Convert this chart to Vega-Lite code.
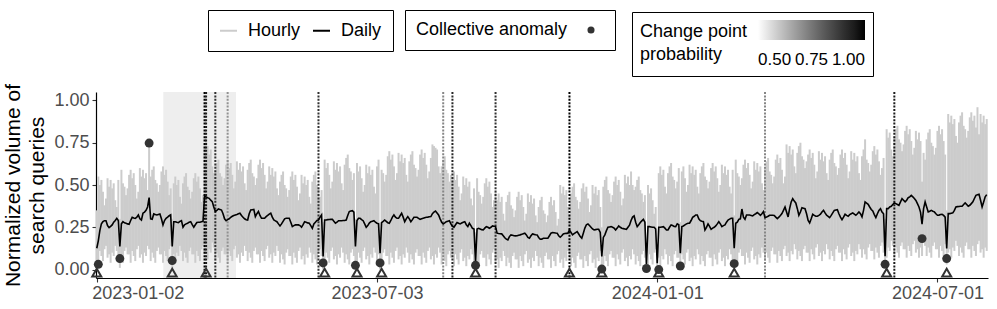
{
"$schema": "https://vega.github.io/schema/vega-lite/v6.json",
"width": 892, "height": 186,
"autosize": {"type": "none"},
"padding": {"left": 96, "top": 92, "right": 9, "bottom": 31},
"config": {
  "font": "Liberation Sans",
  "view": {"stroke": null},
  "axis": {"grid": false, "domainColor": "black", "domainWidth": 1.2, "tickColor": "#333333", "tickWidth": 1.1, "tickSize": 4, "labelColor": "#4d4d4d", "labelFontSize": 18, "labelFont": "Liberation Sans", "titleFont": "Liberation Sans", "titleColor": "black", "titleFontWeight": "normal"},
  "legend": {"labelFont": "Liberation Sans", "titleFont": "Liberation Sans", "labelColor": "black", "titleColor": "black", "labelFontSize": 18, "titleFontSize": 18, "titleFontWeight": "normal"}
},
"data": {"values": "t,d,l,h\n2023-01-02,.126,.03,.35\n2023-01-03,.17,.04,.55\n2023-01-04,.23,.11,.50\n2023-01-05,.27,.08,.53\n2023-01-06,.283,.05,.46\n2023-01-07,.289,.12,.38\n2023-01-08,.289,.14,.42\n2023-01-09,.26,.07,.54\n2023-01-10,.248,.09,.49\n2023-01-11,.255,.04,.53\n2023-01-12,.264,.10,.48\n2023-01-13,.28,.08,.51\n2023-01-14,.29,.14,.41\n2023-01-15,.303,.11,.37\n2023-01-16,.29,.05,.53\n2023-01-17,.136,.01,.30\n2023-01-18,.27,.07,.59\n2023-01-19,.283,.04,.51\n2023-01-20,.276,.11,.49\n2023-01-21,.274,.13,.44\n2023-01-22,.27,.09,.48\n2023-01-23,.268,.09,.56\n2023-01-24,.29,.04,.59\n2023-01-25,.309,.11,.54\n2023-01-26,.305,.08,.57\n2023-01-27,.303,.05,.50\n2023-01-28,.31,.12,.42\n2023-01-29,.323,.14,.46\n2023-01-30,.30,.07,.60\n2023-01-31,.293,.09,.55\n2023-02-01,.333,.04,.59\n2023-02-02,.34,.10,.54\n2023-02-03,.35,.08,.57\n2023-02-04,.37,.14,.47\n2023-02-05,.425,.12,.75\n2023-02-06,.30,.05,.55\n2023-02-07,.297,.10,.59\n2023-02-08,.329,.07,.61\n2023-02-09,.325,.04,.53\n2023-02-10,.323,.11,.51\n2023-02-11,.326,.13,.46\n2023-02-12,.329,.09,.50\n2023-02-13,.30,.09,.58\n2023-02-14,.264,.04,.61\n2023-02-15,.29,.11,.56\n2023-02-16,.303,.08,.59\n2023-02-17,.31,.05,.52\n2023-02-18,.318,.12,.44\n2023-02-19,.323,.14,.48\n2023-02-20,.136,.01,.30\n2023-02-21,.283,.09,.51\n2023-02-22,.283,.04,.55\n2023-02-23,.28,.10,.50\n2023-02-24,.278,.08,.53\n2023-02-25,.285,.14,.43\n2023-02-26,.289,.11,.39\n2023-02-27,.25,.05,.51\n2023-02-28,.265,.10,.55\n2023-03-01,.27,.07,.57\n2023-03-02,.274,.04,.49\n2023-03-03,.28,.11,.47\n2023-03-04,.283,.13,.42\n2023-03-05,.265,.09,.46\n2023-03-06,.25,.09,.54\n2023-03-07,.265,.04,.57\n2023-03-08,.278,.11,.52\n2023-03-09,.28,.08,.55\n2023-03-10,.28,.05,.48\n2023-03-11,.283,.12,.40\n2023-03-12,.285,.14,.44\n2023-03-13,.435,.09,.74\n2023-03-14,.43,.11,.77\n2023-03-15,.425,.06,.73\n2023-03-16,.421,.12,.68\n2023-03-17,.41,.10,.71\n2023-03-18,.402,.16,.61\n2023-03-19,.37,.13,.57\n2023-03-20,.343,.05,.59\n2023-03-21,.35,.10,.63\n2023-03-22,.358,.07,.65\n2023-03-23,.355,.04,.57\n2023-03-24,.352,.11,.55\n2023-03-25,.33,.13,.50\n2023-03-26,.30,.09,.54\n2023-03-27,.289,.09,.62\n2023-03-28,.295,.04,.65\n2023-03-29,.30,.11,.60\n2023-03-30,.309,.08,.63\n2023-03-31,.315,.05,.56\n2023-04-01,.32,.12,.48\n2023-04-02,.323,.14,.52\n2023-04-03,.326,.07,.64\n2023-04-04,.33,.09,.59\n2023-04-05,.333,.04,.63\n2023-04-06,.32,.10,.58\n2023-04-07,.309,.08,.61\n2023-04-08,.30,.14,.51\n2023-04-09,.295,.11,.47\n2023-04-10,.293,.05,.59\n2023-04-11,.33,.10,.63\n2023-04-12,.352,.07,.65\n2023-04-13,.354,.04,.57\n2023-04-14,.356,.11,.55\n2023-04-15,.313,.13,.50\n2023-04-16,.33,.09,.54\n2023-04-17,.343,.09,.62\n2023-04-18,.32,.04,.65\n2023-04-19,.303,.11,.60\n2023-04-20,.303,.08,.63\n2023-04-21,.303,.05,.56\n2023-04-22,.313,.12,.48\n2023-04-23,.32,.14,.52\n2023-04-24,.328,.07,.61\n2023-04-25,.333,.09,.56\n2023-04-26,.31,.04,.60\n2023-04-27,.293,.10,.55\n2023-04-28,.288,.08,.58\n2023-04-29,.283,.14,.48\n2023-04-30,.27,.11,.44\n2023-05-01,.258,.04,.52\n2023-05-02,.27,.09,.56\n2023-05-03,.285,.06,.58\n2023-05-04,.30,.03,.50\n2023-05-05,.303,.10,.48\n2023-05-06,.303,.12,.43\n2023-05-07,.303,.08,.47\n2023-05-08,.28,.08,.55\n2023-05-09,.254,.03,.58\n2023-05-10,.26,.10,.53\n2023-05-11,.264,.07,.56\n2023-05-12,.264,.04,.49\n2023-05-13,.264,.11,.41\n2023-05-14,.26,.13,.45\n2023-05-15,.25,.06,.56\n2023-05-16,.265,.08,.51\n2023-05-17,.283,.03,.55\n2023-05-18,.28,.09,.50\n2023-05-19,.276,.07,.53\n2023-05-20,.274,.13,.43\n2023-05-21,.26,.10,.39\n2023-05-22,.244,.04,.52\n2023-05-23,.27,.09,.56\n2023-05-24,.28,.06,.58\n2023-05-25,.29,.03,.50\n2023-05-26,.293,.10,.48\n2023-05-27,.31,.12,.43\n2023-05-28,.323,.08,.47\n2023-05-29,.077,.0,.28\n2023-05-30,.293,.03,.65\n2023-05-31,.293,.10,.60\n2023-06-01,.295,.07,.63\n2023-06-02,.296,.04,.56\n2023-06-03,.297,.11,.48\n2023-06-04,.297,.13,.52\n2023-06-05,.285,.06,.64\n2023-06-06,.274,.08,.59\n2023-06-07,.28,.03,.63\n2023-06-08,.289,.09,.58\n2023-06-09,.289,.07,.61\n2023-06-10,.289,.13,.51\n2023-06-11,.29,.10,.47\n2023-06-12,.29,.04,.62\n2023-06-13,.293,.09,.66\n2023-06-14,.32,.06,.68\n2023-06-15,.343,.03,.60\n2023-06-16,.346,.10,.58\n2023-06-17,.348,.12,.53\n2023-06-18,.34,.08,.57\n2023-06-19,.136,.01,.30\n2023-06-20,.29,.03,.63\n2023-06-21,.303,.10,.58\n2023-06-22,.303,.07,.61\n2023-06-23,.295,.04,.54\n2023-06-24,.289,.11,.46\n2023-06-25,.27,.13,.50\n2023-06-26,.25,.06,.62\n2023-06-27,.26,.08,.57\n2023-06-28,.275,.03,.61\n2023-06-29,.283,.09,.56\n2023-06-30,.286,.07,.59\n2023-07-01,.289,.13,.49\n2023-07-02,.28,.10,.45\n2023-07-03,.274,.04,.61\n2023-07-04,.27,.09,.65\n2023-07-05,.096,.0,.28\n2023-07-06,.278,.03,.59\n2023-07-07,.285,.10,.57\n2023-07-08,.293,.12,.52\n2023-07-09,.285,.08,.56\n2023-07-10,.277,.08,.67\n2023-07-11,.274,.03,.70\n2023-07-12,.29,.10,.65\n2023-07-13,.31,.07,.68\n2023-07-14,.323,.04,.61\n2023-07-15,.31,.11,.53\n2023-07-16,.303,.13,.57\n2023-07-17,.303,.06,.69\n2023-07-18,.318,.08,.64\n2023-07-19,.333,.03,.68\n2023-07-20,.31,.09,.63\n2023-07-21,.283,.07,.66\n2023-07-22,.30,.13,.56\n2023-07-23,.313,.10,.52\n2023-07-24,.30,.04,.64\n2023-07-25,.283,.09,.68\n2023-07-26,.295,.06,.70\n2023-07-27,.309,.03,.62\n2023-07-28,.309,.10,.60\n2023-07-29,.309,.12,.55\n2023-07-30,.303,.08,.59\n2023-07-31,.297,.08,.68\n2023-08-01,.30,.03,.71\n2023-08-02,.303,.10,.66\n2023-08-03,.306,.07,.69\n2023-08-04,.309,.04,.62\n2023-08-05,.31,.11,.54\n2023-08-06,.312,.13,.58\n2023-08-07,.313,.06,.66\n2023-08-08,.33,.08,.74\n2023-08-09,.34,.03,.73\n2023-08-10,.346,.09,.72\n2023-08-11,.335,.07,.71\n2023-08-12,.323,.13,.61\n2023-08-13,.30,.10,.57\n2023-08-14,.28,.03,.61\n2023-08-15,.27,.08,.65\n2023-08-16,.276,.05,.67\n2023-08-17,.283,.02,.59\n2023-08-18,.286,.09,.57\n2023-08-19,.289,.11,.52\n2023-08-20,.27,.07,.56\n2023-08-21,.255,.07,.55\n2023-08-22,.25,.02,.58\n2023-08-23,.265,.09,.53\n2023-08-24,.278,.06,.56\n2023-08-25,.274,.03,.49\n2023-08-26,.27,.10,.41\n2023-08-27,.275,.12,.45\n2023-08-28,.28,.05,.55\n2023-08-29,.283,.07,.50\n2023-08-30,.265,.02,.54\n2023-08-31,.254,.08,.49\n2023-09-01,.274,.06,.52\n2023-09-02,.26,.12,.42\n2023-09-03,.244,.09,.38\n2023-09-04,.24,.03,.48\n2023-09-05,.047,.0,.22\n2023-09-06,.24,.05,.54\n2023-09-07,.244,.02,.46\n2023-09-08,.24,.09,.44\n2023-09-09,.236,.11,.39\n2023-09-10,.234,.07,.43\n2023-09-11,.245,.07,.51\n2023-09-12,.254,.02,.54\n2023-09-13,.25,.09,.49\n2023-09-14,.244,.06,.52\n2023-09-15,.25,.03,.45\n2023-09-16,.258,.10,.37\n2023-09-17,.256,.12,.41\n2023-09-18,.254,.04,.46\n2023-09-19,.215,.06,.41\n2023-09-20,.213,.01,.45\n2023-09-21,.212,.07,.40\n2023-09-22,.211,.05,.43\n2023-09-23,.20,.11,.33\n2023-09-24,.188,.08,.29\n2023-09-25,.18,.02,.40\n2023-09-26,.175,.07,.44\n2023-09-27,.195,.04,.46\n2023-09-28,.205,.01,.38\n2023-09-29,.203,.08,.36\n2023-09-30,.20,.10,.31\n2023-10-01,.199,.06,.35\n2023-10-02,.20,.06,.43\n2023-10-03,.203,.01,.46\n2023-10-04,.205,.08,.41\n2023-10-05,.208,.05,.44\n2023-10-06,.212,.02,.37\n2023-10-07,.215,.09,.29\n2023-10-08,.205,.11,.33\n2023-10-09,.19,.04,.45\n2023-10-10,.185,.06,.40\n2023-10-11,.20,.01,.44\n2023-10-12,.211,.07,.39\n2023-10-13,.208,.05,.42\n2023-10-14,.206,.11,.32\n2023-10-15,.205,.08,.28\n2023-10-16,.19,.02,.37\n2023-10-17,.179,.07,.41\n2023-10-18,.18,.04,.43\n2023-10-19,.185,.01,.35\n2023-10-20,.185,.08,.33\n2023-10-21,.185,.10,.28\n2023-10-22,.185,.06,.32\n2023-10-23,.20,.06,.40\n2023-10-24,.215,.01,.43\n2023-10-25,.219,.08,.38\n2023-10-26,.218,.05,.41\n2023-10-27,.216,.02,.34\n2023-10-28,.215,.09,.26\n2023-10-29,.20,.11,.30\n2023-10-30,.191,.04,.50\n2023-10-31,.20,.06,.45\n2023-11-01,.211,.01,.49\n2023-11-02,.213,.07,.44\n2023-11-03,.214,.05,.47\n2023-11-04,.215,.11,.37\n2023-11-05,.234,.08,.33\n2023-11-06,.22,.02,.45\n2023-11-07,.205,.07,.49\n2023-11-08,.212,.04,.51\n2023-11-09,.218,.01,.43\n2023-11-10,.224,.08,.41\n2023-11-11,.21,.10,.36\n2023-11-12,.195,.06,.40\n2023-11-13,.185,.06,.48\n2023-11-14,.215,.01,.51\n2023-11-15,.245,.08,.46\n2023-11-16,.265,.05,.49\n2023-11-17,.27,.02,.42\n2023-11-18,.26,.09,.34\n2023-11-19,.25,.11,.38\n2023-11-20,.24,.04,.50\n2023-11-21,.234,.06,.45\n2023-11-22,.236,.01,.49\n2023-11-23,.238,.07,.44\n2023-11-24,.238,.05,.47\n2023-11-25,.22,.11,.37\n2023-11-26,.077,.0,.25\n2023-11-27,.19,.03,.49\n2023-11-28,.205,.08,.53\n2023-11-29,.23,.05,.55\n2023-11-30,.25,.02,.47\n2023-12-01,.252,.09,.45\n2023-12-02,.254,.11,.40\n2023-12-03,.25,.07,.44\n2023-12-04,.245,.07,.52\n2023-12-05,.234,.02,.55\n2023-12-06,.245,.09,.50\n2023-12-07,.258,.06,.53\n2023-12-08,.25,.03,.46\n2023-12-09,.244,.10,.38\n2023-12-10,.242,.12,.42\n2023-12-11,.24,.05,.56\n2023-12-12,.238,.07,.51\n2023-12-13,.25,.02,.55\n2023-12-14,.262,.08,.50\n2023-12-15,.29,.06,.58\n2023-12-16,.31,.12,.50\n2023-12-17,.317,.09,.47\n2023-12-18,.28,.03,.49\n2023-12-19,.254,.08,.53\n2023-12-20,.265,.05,.55\n2023-12-21,.278,.02,.47\n2023-12-22,.288,.09,.45\n2023-12-23,.297,.11,.40\n2023-12-24,.28,.07,.44\n2023-12-25,.033,.0,.15\n2023-12-26,.254,.02,.50\n2023-12-27,.254,.09,.45\n2023-12-28,.252,.06,.48\n2023-12-29,.25,.03,.41\n2023-12-30,.25,.10,.33\n2023-12-31,.24,.12,.37\n2024-01-01,.037,.0,.15\n2024-01-02,.25,.07,.57\n2024-01-03,.25,.02,.61\n2024-01-04,.252,.08,.56\n2024-01-05,.254,.06,.59\n2024-01-06,.245,.12,.49\n2024-01-07,.234,.09,.45\n2024-01-08,.234,.03,.57\n2024-01-09,.25,.08,.61\n2024-01-10,.264,.05,.63\n2024-01-11,.26,.02,.55\n2024-01-12,.255,.09,.53\n2024-01-13,.254,.11,.48\n2024-01-14,.27,.07,.52\n2024-01-15,.265,.07,.60\n2024-01-16,.096,.01,.28\n2024-01-17,.254,.09,.58\n2024-01-18,.258,.06,.61\n2024-01-19,.264,.03,.54\n2024-01-20,.27,.10,.46\n2024-01-21,.274,.12,.50\n2024-01-22,.274,.05,.62\n2024-01-23,.29,.07,.57\n2024-01-24,.309,.02,.61\n2024-01-25,.315,.08,.56\n2024-01-26,.323,.06,.59\n2024-01-27,.323,.12,.49\n2024-01-28,.30,.09,.45\n2024-01-29,.289,.03,.57\n2024-01-30,.285,.08,.61\n2024-01-31,.283,.05,.63\n2024-02-01,.234,.02,.55\n2024-02-02,.25,.09,.53\n2024-02-03,.27,.11,.48\n2024-02-04,.255,.07,.52\n2024-02-05,.238,.07,.60\n2024-02-06,.245,.02,.63\n2024-02-07,.25,.09,.58\n2024-02-08,.258,.06,.61\n2024-02-09,.27,.03,.54\n2024-02-10,.283,.10,.46\n2024-02-11,.27,.12,.50\n2024-02-12,.254,.05,.62\n2024-02-13,.26,.07,.57\n2024-02-14,.264,.02,.61\n2024-02-15,.28,.08,.56\n2024-02-16,.293,.06,.59\n2024-02-17,.298,.12,.49\n2024-02-18,.303,.09,.45\n2024-02-19,.303,.04,.59\n2024-02-20,.126,.02,.32\n2024-02-21,.274,.06,.65\n2024-02-22,.28,.03,.57\n2024-02-23,.297,.10,.55\n2024-02-24,.30,.12,.50\n2024-02-25,.358,.08,.54\n2024-02-26,.31,.08,.62\n2024-02-27,.297,.03,.65\n2024-02-28,.323,.10,.60\n2024-02-29,.323,.07,.63\n2024-03-01,.323,.04,.56\n2024-03-02,.32,.11,.48\n2024-03-03,.317,.13,.52\n2024-03-04,.325,.06,.64\n2024-03-05,.33,.08,.59\n2024-03-06,.337,.03,.63\n2024-03-07,.33,.09,.58\n2024-03-08,.321,.07,.61\n2024-03-09,.33,.13,.51\n2024-03-10,.343,.10,.47\n2024-03-11,.307,.05,.60\n2024-03-12,.31,.10,.64\n2024-03-13,.315,.07,.66\n2024-03-14,.321,.04,.58\n2024-03-15,.321,.11,.56\n2024-03-16,.321,.13,.51\n2024-03-17,.32,.09,.55\n2024-03-18,.31,.09,.65\n2024-03-19,.301,.04,.68\n2024-03-20,.31,.11,.63\n2024-03-21,.32,.08,.66\n2024-03-22,.331,.05,.59\n2024-03-23,.35,.12,.51\n2024-03-24,.37,.14,.55\n2024-03-25,.34,.08,.74\n2024-03-26,.311,.10,.69\n2024-03-27,.36,.05,.73\n2024-03-28,.40,.11,.68\n2024-03-29,.419,.09,.71\n2024-03-30,.405,.15,.61\n2024-03-31,.394,.12,.57\n2024-04-01,.36,.06,.69\n2024-04-02,.321,.11,.73\n2024-04-03,.34,.08,.75\n2024-04-04,.366,.05,.67\n2024-04-05,.363,.12,.65\n2024-04-06,.36,.14,.60\n2024-04-07,.33,.10,.64\n2024-04-08,.29,.10,.68\n2024-04-09,.276,.05,.71\n2024-04-10,.30,.12,.66\n2024-04-11,.327,.09,.69\n2024-04-12,.32,.06,.62\n2024-04-13,.315,.13,.54\n2024-04-14,.315,.15,.58\n2024-04-15,.32,.08,.70\n2024-04-16,.327,.10,.65\n2024-04-17,.34,.05,.69\n2024-04-18,.35,.11,.64\n2024-04-19,.335,.09,.67\n2024-04-20,.321,.15,.57\n2024-04-21,.315,.12,.53\n2024-04-22,.307,.06,.65\n2024-04-23,.32,.11,.69\n2024-04-24,.335,.08,.71\n2024-04-25,.35,.05,.63\n2024-04-26,.352,.12,.61\n2024-04-27,.354,.14,.56\n2024-04-28,.33,.10,.60\n2024-04-29,.31,.10,.68\n2024-04-30,.295,.05,.71\n2024-05-01,.31,.12,.66\n2024-05-02,.327,.09,.69\n2024-05-03,.32,.06,.62\n2024-05-04,.315,.13,.54\n2024-05-05,.325,.15,.58\n2024-05-06,.33,.08,.70\n2024-05-07,.335,.10,.65\n2024-05-08,.328,.05,.69\n2024-05-09,.321,.11,.64\n2024-05-10,.33,.09,.67\n2024-05-11,.341,.15,.57\n2024-05-12,.33,.12,.53\n2024-05-13,.311,.07,.67\n2024-05-14,.35,.12,.71\n2024-05-15,.40,.09,.77\n2024-05-16,.393,.06,.65\n2024-05-17,.386,.13,.63\n2024-05-18,.37,.15,.58\n2024-05-19,.355,.11,.62\n2024-05-20,.346,.11,.70\n2024-05-21,.325,.06,.73\n2024-05-22,.307,.13,.68\n2024-05-23,.33,.10,.71\n2024-05-24,.35,.07,.64\n2024-05-25,.36,.14,.56\n2024-05-26,.34,.16,.60\n2024-05-27,.33,.10,.66\n2024-05-28,.079,.02,.30\n2024-05-29,.36,.07,.83\n2024-05-30,.36,.13,.78\n2024-05-31,.37,.11,.81\n2024-06-01,.374,.17,.71\n2024-06-02,.385,.14,.67\n2024-06-03,.394,.08,.79\n2024-06-04,.39,.13,.83\n2024-06-05,.385,.10,.85\n2024-06-06,.38,.07,.77\n2024-06-07,.40,.14,.75\n2024-06-08,.419,.16,.70\n2024-06-09,.41,.12,.74\n2024-06-10,.40,.12,.82\n2024-06-11,.41,.07,.85\n2024-06-12,.425,.14,.80\n2024-06-13,.43,.11,.83\n2024-06-14,.439,.08,.76\n2024-06-15,.43,.15,.68\n2024-06-16,.42,.17,.72\n2024-06-17,.409,.10,.82\n2024-06-18,.39,.12,.77\n2024-06-19,.37,.07,.81\n2024-06-20,.34,.13,.76\n2024-06-21,.268,.08,.52\n2024-06-22,.36,.17,.69\n2024-06-23,.40,.14,.65\n2024-06-24,.37,.08,.77\n2024-06-25,.341,.13,.81\n2024-06-26,.345,.10,.83\n2024-06-27,.35,.07,.75\n2024-06-28,.345,.14,.73\n2024-06-29,.341,.16,.68\n2024-06-30,.33,.12,.72\n2024-07-01,.321,.12,.82\n2024-07-02,.322,.07,.85\n2024-07-03,.325,.14,.80\n2024-07-04,.327,.11,.83\n2024-07-05,.32,.08,.76\n2024-07-06,.31,.15,.68\n2024-07-07,.124,.03,.35\n2024-07-08,.331,.10,.92\n2024-07-09,.331,.12,.87\n2024-07-10,.333,.07,.91\n2024-07-11,.335,.13,.86\n2024-07-12,.35,.11,.89\n2024-07-13,.37,.17,.79\n2024-07-14,.372,.14,.75\n2024-07-15,.373,.08,.87\n2024-07-16,.374,.13,.91\n2024-07-17,.374,.10,.93\n2024-07-18,.385,.07,.85\n2024-07-19,.394,.14,.83\n2024-07-20,.385,.16,.78\n2024-07-21,.374,.12,.82\n2024-07-22,.38,.12,.90\n2024-07-23,.39,.07,.93\n2024-07-24,.40,.14,.88\n2024-07-25,.42,.11,.91\n2024-07-26,.439,.08,.84\n2024-07-27,.442,.15,.96\n2024-07-28,.445,.17,.80\n2024-07-29,.41,.10,.92\n2024-07-30,.37,.12,.87\n2024-07-31,.40,.07,.91\n2024-08-01,.43,.13,.86\n2024-08-02,.443,.11,.89", "format": {"type": "csv", "parse": {"t": "date", "d": "number", "l": "number", "h": "number"}}},
"layer": [
  {
    "data": {"values": [{"s": "2023-02-14T05:00:00Z", "e": "2023-04-02T09:36:00Z"}]},
    "mark": {"type": "rect", "color": "#eeeeee"},
    "encoding": {
      "x": {"field": "s", "type": "temporal",
        "scale": {"type": "utc", "domain": [{"year": 2023, "month": 1, "date": 1, "hours": 12, "utc": true}, {"year": 2024, "month": 8, "date": 2, "hours": 20, "utc": true}]},
        "axis": {"title": null, "values": [{"year": 2023, "month": 1, "date": 2, "utc": true}, {"year": 2023, "month": 7, "date": 3, "utc": true}, {"year": 2024, "month": 1, "date": 1, "utc": true}, {"year": 2024, "month": 7, "date": 1, "utc": true}], "format": "%Y-%m-%d", "labelFlush": 3, "labelFlushOffset": 5, "labelPadding": 2}},
      "x2": {"field": "e"}
    }
  },
  {
    "mark": {"type": "rule", "strokeWidth": 2.0},
    "encoding": {
      "x": {"field": "t", "type": "temporal"},
      "y": {"field": "l", "type": "quantitative",
        "scale": {"domain": [-0.05, 1.05], "nice": false, "zero": false},
        "axis": {"title": ["Normalized volume of", "search queries"], "titleFontSize": 21, "titleLineHeight": 24, "titlePadding": 6, "values": [0, 0.25, 0.5, 0.75, 1], "format": ".2f", "labelPadding": 3}},
      "y2": {"field": "h"},
      "stroke": {"datum": "Hourly", "type": "nominal",
        "scale": {"domain": ["Hourly", "Daily"], "range": ["#cccccc", "#000000"]},
        "legend": {"title": null, "orient": "none", "legendX": 112, "legendY": -82, "direction": "horizontal", "strokeColor": "black", "padding": 11, "symbolType": "stroke", "symbolSize": 289, "symbolStrokeWidth": 2, "labelOffset": 10, "columnPadding": 8}}
    }
  },
  {
    "data": {"values": [
      {"t": "2023-03-13", "p": 1.0}, {"t": "2023-03-14", "p": 0.95}, {"t": "2023-03-20", "p": 0.9},
      {"t": "2023-03-28", "p": 0.7}, {"t": "2023-05-26", "p": 0.9}, {"t": "2023-08-15", "p": 0.72},
      {"t": "2023-08-21", "p": 0.92}, {"t": "2023-09-18", "p": 0.9}, {"t": "2023-11-05", "p": 1.0},
      {"t": "2024-03-11", "p": 0.72}, {"t": "2024-06-03", "p": 0.95}
    ]},
    "mark": {"type": "rule", "strokeDash": [2, 1.4], "strokeWidth": 2},
    "encoding": {
      "x": {"field": "t", "type": "temporal"},
      "color": {"field": "p", "type": "quantitative",
        "scale": {"domain": [0.5, 1], "range": ["#ffffff", "#000000"], "interpolate": "lab"},
        "legend": {"title": ["Change point", "probability"], "orient": "none", "legendX": 536, "legendY": -80, "direction": "horizontal", "titleOrient": "left", "titleAnchor": "start", "titleBaseline": "line-top", "titlePadding": 10, "titleLineHeight": 23, "gradientLength": 107, "gradientThickness": 20, "values": [0.5, 0.75, 1], "format": ".2f", "labelFontSize": 17, "labelOffset": 12, "strokeColor": "black", "padding": 8}}
    }
  },
  {
    "mark": {"type": "line", "strokeWidth": 1.6},
    "encoding": {
      "x": {"field": "t", "type": "temporal"},
      "y": {"field": "d", "type": "quantitative"},
      "stroke": {"datum": "Daily", "type": "nominal"}
    }
  },
  {
    "data": {"values": [
      {"t": "2023-01-03", "v": 0.031}, {"t": "2023-01-17", "v": 0.065}, {"t": "2023-02-05", "v": 0.748},
      {"t": "2023-02-20", "v": 0.053}, {"t": "2023-05-29", "v": 0.039}, {"t": "2023-06-19", "v": 0.025},
      {"t": "2023-07-05", "v": 0.039}, {"t": "2023-09-05", "v": 0.025}, {"t": "2023-11-26", "v": 0.003},
      {"t": "2023-12-25", "v": 0.006}, {"t": "2024-01-02", "v": 0.0}, {"t": "2024-01-16", "v": 0.021},
      {"t": "2024-02-20", "v": 0.035}, {"t": "2024-05-28", "v": 0.031}, {"t": "2024-06-21", "v": 0.183},
      {"t": "2024-07-07", "v": 0.065}
    ]},
    "mark": {"type": "point", "filled": true, "size": 80, "color": "#333333", "opacity": 1},
    "encoding": {
      "x": {"field": "t", "type": "temporal"},
      "y": {"field": "v", "type": "quantitative"},
      "shape": {"datum": "Collective anomaly", "type": "nominal",
        "scale": {"domain": ["Collective anomaly"], "range": ["circle"]},
        "legend": {"title": "Collective anomaly", "orient": "none", "legendX": 309, "legendY": -82, "titleOrient": "left", "titlePadding": 14, "labelExpr": "''", "strokeColor": "black", "padding": 11, "symbolSize": 50, "symbolFillColor": "#333333", "symbolStrokeWidth": 0}}
    }
  },
  {
    "data": {"values": [
      {"t": "2023-01-02"}, {"t": "2023-02-20"}, {"t": "2023-03-14"}, {"t": "2023-05-30"}, {"t": "2023-06-20"},
      {"t": "2023-07-06"}, {"t": "2023-09-05"}, {"t": "2023-11-05"}, {"t": "2023-11-26"}, {"t": "2024-01-02"},
      {"t": "2024-02-20"}, {"t": "2024-05-29"}, {"t": "2024-07-07"}
    ]},
    "mark": {"type": "point", "shape": "triangle-up", "filled": false, "size": 81, "stroke": "#333333", "strokeWidth": 2, "opacity": 1},
    "encoding": {
      "x": {"field": "t", "type": "temporal"},
      "y": {"datum": -0.018, "type": "quantitative"}
    }
  }
]
}
